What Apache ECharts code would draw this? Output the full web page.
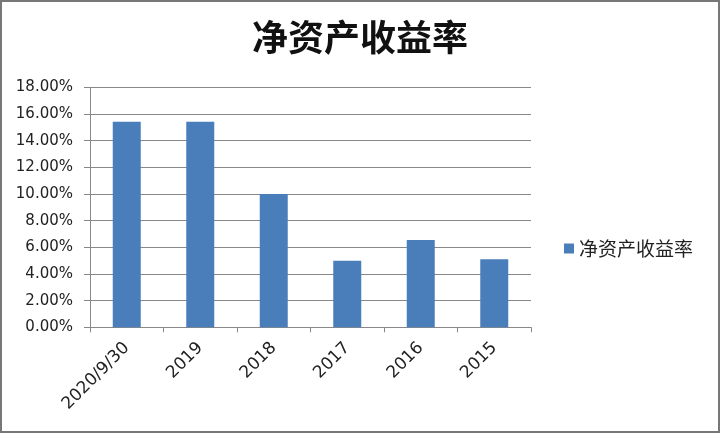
<!DOCTYPE html>
<html><head><meta charset="utf-8">
<script src="https://cdn.jsdelivr.net/npm/echarts@6/dist/echarts.min.js"></script>
<style>html,body{margin:0;padding:0;background:#fff}#c{width:720px;height:433px}</style>
</head><body><div id="c"></div>
<script>
const categories = ['2020/9/30','2019','2018','2017','2016','2015'];
const roeValues = [15.42, 15.42, 10.0, 5.0, 6.55, 5.1];
const seriesName = '净资产收益率';
const titleText = '净资产收益率';

const chart = echarts.init(document.getElementById('c'));
chart.setOption({
  backgroundColor: '#fff',
  animation: false,
  title: {
    text: titleText, left: 'center', top: 14,
    textStyle: {fontFamily: 'Noto Sans CJK SC', fontWeight: 'bold', fontSize: 36, color: '#111'}
  },
  legend: {
    orient: 'vertical', left: 559, top: 234,
    itemWidth: 10, itemHeight: 10, itemGap: 6,
    icon: 'rect',
    textStyle: {fontFamily: 'Noto Sans CJK SC', fontSize: 19, color: '#222'},
    data: [seriesName]
  },
  graphic: [{
    type: 'rect', shape: {x: 1, y: 1, width: 718, height: 431},
    style: {fill: 'none', stroke: '#777', lineWidth: 2}, silent: true
  }],
  grid: {left: 90, top: 87.3, width: 441, height: 240, containLabel: false},
  xAxis: {
    type: 'category', data: categories,
    axisLine: {lineStyle: {color: '#888', width: 1}},
    axisTick: {show: true, length: 5, alignWithLabel: false, lineStyle: {color: '#888'}},
    axisLabel: {rotate: 45, fontSize: 17, color: '#222', fontFamily: 'DejaVu Sans', margin: 18, interval: 0}
  },
  yAxis: {
    type: 'value', min: 0, max: 18, interval: 2,
    axisLine: {show: true, lineStyle: {color: '#888', width: 1}},
    axisTick: {show: true, length: 6, lineStyle: {color: '#888'}},
    splitLine: {lineStyle: {color: '#888', width: 1}},
    axisLabel: {fontSize: 15, color: '#222', fontFamily: 'DejaVu Sans', margin: 17,
      formatter: v => v.toFixed(2) + '%'}
  },
  series: [{
    name: seriesName, type: 'bar', data: roeValues, barWidth: 28,
    itemStyle: {color: '#4a7ebb'}
  }]
});
</script></body></html>
